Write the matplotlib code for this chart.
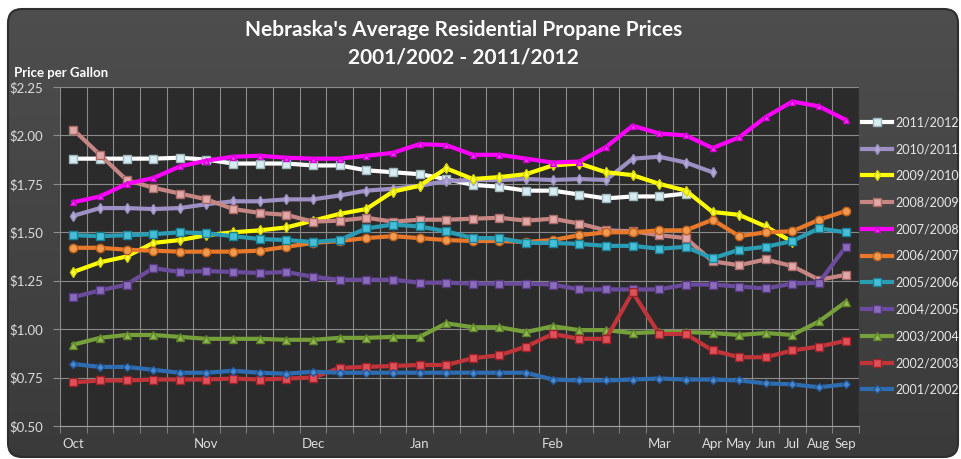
import numpy as np
import matplotlib
matplotlib.use('Agg')
import matplotlib.pyplot as plt
from matplotlib.patches import FancyBboxPatch
from matplotlib.colors import LinearSegmentedColormap

plt.rcParams['font.family'] = ['Lato', 'DejaVu Sans']

# Category labels: weekly Oct-Mar, then monthly Apr-Sep
months = ['Oct', '', '', '', '', 'Nov', '', '', '', 'Dec', '', '', '', 'Jan', '', '', '', '',
          'Feb', '', '', '', 'Mar', '', 'Apr', 'May', 'Jun', 'Jul', 'Aug', 'Sep']

# Price per gallon for each heating season
s2011_2012 = [1.88, 1.88, 1.88, 1.88, 1.885, 1.875, 1.855, 1.855, 1.855, 1.845, 1.845, 1.82, 1.81, 1.80,
              1.775, 1.745, 1.735, 1.715, 1.715, 1.695, 1.675, 1.685, 1.685, 1.70]
s2010_2011 = [1.585, 1.625, 1.625, 1.62, 1.625, 1.645, 1.66, 1.66, 1.67, 1.67, 1.69, 1.715, 1.725, 1.74,
              1.765, 1.77, 1.77, 1.775, 1.77, 1.775, 1.77, 1.88, 1.89, 1.86, 1.81]
s2009_2010 = [1.295, 1.345, 1.375, 1.445, 1.46, 1.485, 1.50, 1.51, 1.525, 1.56, 1.595, 1.62, 1.71, 1.74,
              1.83, 1.775, 1.785, 1.80, 1.845, 1.855, 1.81, 1.795, 1.75, 1.715, 1.605, 1.59, 1.53, 1.45]
s2008_2009 = [2.03, 1.90, 1.77, 1.73, 1.70, 1.67, 1.62, 1.60, 1.59, 1.555, 1.56, 1.575, 1.555, 1.565,
              1.565, 1.57, 1.575, 1.56, 1.57, 1.545, 1.51, 1.505, 1.485, 1.47, 1.35, 1.33, 1.36, 1.325,
              1.255, 1.28]
s2007_2008 = [1.655, 1.685, 1.75, 1.78, 1.84, 1.87, 1.89, 1.895, 1.885, 1.88, 1.88, 1.895, 1.91, 1.955,
              1.95, 1.90, 1.90, 1.88, 1.86, 1.865, 1.94, 2.05, 2.01, 2.00, 1.935, 1.99, 2.095, 2.175,
              2.15, 2.08]
s2006_2007 = [1.42, 1.42, 1.41, 1.405, 1.40, 1.40, 1.40, 1.405, 1.425, 1.445, 1.455, 1.47, 1.48, 1.47,
              1.46, 1.455, 1.455, 1.45, 1.46, 1.485, 1.50, 1.50, 1.51, 1.51, 1.565, 1.48, 1.50, 1.505,
              1.565, 1.61]
s2005_2006 = [1.485, 1.48, 1.485, 1.49, 1.50, 1.495, 1.48, 1.465, 1.46, 1.45, 1.46, 1.52, 1.54, 1.53,
              1.505, 1.47, 1.47, 1.445, 1.445, 1.44, 1.43, 1.43, 1.415, 1.425, 1.365, 1.41, 1.425, 1.455,
              1.52, 1.50]
s2004_2005 = [1.165, 1.20, 1.23, 1.315, 1.295, 1.30, 1.295, 1.29, 1.295, 1.27, 1.255, 1.255, 1.255, 1.24,
              1.24, 1.235, 1.235, 1.235, 1.23, 1.205, 1.205, 1.205, 1.205, 1.23, 1.23, 1.22, 1.21, 1.235,
              1.24, 1.425]
s2003_2004 = [0.92, 0.955, 0.97, 0.97, 0.96, 0.95, 0.95, 0.95, 0.945, 0.945, 0.955, 0.955, 0.96, 0.96,
              1.03, 1.01, 1.01, 0.985, 1.015, 0.995, 0.995, 0.98, 0.985, 0.985, 0.98, 0.97, 0.98, 0.97,
              1.04, 1.14]
s2002_2003 = [0.725, 0.735, 0.735, 0.74, 0.74, 0.74, 0.745, 0.74, 0.745, 0.75, 0.80, 0.805, 0.81, 0.815,
              0.815, 0.85, 0.865, 0.91, 0.975, 0.95, 0.95, 1.19, 0.975, 0.975, 0.89, 0.855, 0.855, 0.89,
              0.91, 0.94]
s2001_2002 = [0.82, 0.805, 0.805, 0.79, 0.775, 0.775, 0.785, 0.775, 0.77, 0.78, 0.775, 0.775, 0.775, 0.775,
              0.775, 0.775, 0.775, 0.775, 0.74, 0.735, 0.735, 0.74, 0.745, 0.74, 0.74, 0.735, 0.72, 0.715,
              0.70, 0.715]

seasons = ['2011/2012', '2010/2011', '2009/2010', '2008/2009', '2007/2008', '2006/2007',
           '2005/2006', '2004/2005', '2003/2004', '2002/2003', '2001/2002']
series = [s2011_2012, s2010_2011, s2009_2010, s2008_2009, s2007_2008, s2006_2007,
          s2005_2006, s2004_2005, s2003_2004, s2002_2003, s2001_2002]

# line colour, marker, marker size, marker face, marker edge
styles = [
    ('#ffffff', 's', 6, '#d6eef3', '#9fb5ba'),
    ('#9d90c4', 'd', 5, '#b3a8d6', '#9d90c4'),
    ('#ffff00', 'd', 5, '#ffff33', '#d8d800'),
    ('#c68784', 's', 6, '#e0a8a6', '#a86866'),
    ('#ff00ff', '^', 4.5, '#ff33ff', '#d000d0'),
    ('#e8792a', 'o', 6, '#f09a50', '#c0601a'),
    ('#2a9db5', 's', 6, '#45c0d8', '#1d7f93'),
    ('#6b4c9c', 's', 6, '#8a6cbc', '#55387e'),
    ('#76a03a', '^', 5.5, '#90b850', '#5e8428'),
    ('#c0343a', 's', 6, '#e05058', '#9a2228'),
    ('#2f6db2', 'D', 4.5, '#4a88cc', '#225596'),
]

fig = plt.figure(figsize=(9.61, 4.59), dpi=100)
fig.patch.set_facecolor('white')

# rounded dark chart frame with a soft vertical gradient
bg = fig.add_axes([0, 0, 1, 1])
bg.set_xlim(0, 1)
bg.set_ylim(0, 1)
bg.axis('off')
frame = FancyBboxPatch((0.08, 0.02), 9.50, 4.48, boxstyle='round,pad=0,rounding_size=0.14',
                       transform=fig.dpi_scale_trans, facecolor='none', edgecolor='#2e2e2e',
                       linewidth=1.5, zorder=3)
bg.add_patch(frame)
grad = np.linspace(0, 1, 256).reshape(-1, 1)
cmap = LinearSegmentedColormap.from_list('bg', ['#4e4e4e', '#3a3a3a'])
im = bg.imshow(grad, cmap=cmap, aspect='auto', extent=[0, 1, 0, 1], origin='upper')
im.set_clip_path(frame)

ax = fig.add_axes([60 / 961, 33 / 459, 799 / 961, 339 / 459])
ax.set_facecolor('#2b2b2b')

x = np.arange(len(months))
for label, vals, (col, mk, ms, mfc, mec) in zip(seasons, series, styles):
    ax.plot(x[:len(vals)], vals, color=col, lw=3, marker=mk, ms=ms,
            mfc=mfc, mec=mec, mew=1, label=label)

ax.set_xlim(-0.5, len(months) - 0.5)
ax.set_ylim(0.5, 2.25)
yt = np.arange(0.5, 2.26, 0.25)
ax.set_yticks(yt)
ax.set_yticklabels([f'${v:.2f}' for v in yt])
ax.set_xticks(x)
ax.set_xticklabels(months)
ax.set_xticks(np.arange(-0.5, len(months), 1), minor=True)

ax.tick_params(axis='x', which='major', length=0, pad=9, labelsize=9.5, labelcolor='#dcdcdc')
ax.tick_params(axis='x', which='minor', length=5, color='#8c8c8c', direction='out')
ax.tick_params(axis='y', length=5, color='#8c8c8c', pad=7, labelsize=9.5, labelcolor='#dcdcdc')
ax.grid(which='minor', axis='x', color='#8a8a8a', lw=0.8)
ax.grid(which='major', axis='y', color='#8a8a8a', lw=0.8)
ax.grid(which='major', axis='x', visible=False)
ax.set_axisbelow(True)
for side in ['top', 'right', 'left']:
    ax.spines[side].set_visible(False)
ax.spines['bottom'].set_color('#a0a0a0')

fig.text(463.5 / 961, 1 - 36 / 459, "Nebraska's Average Residential Propane Prices",
         ha='center', va='baseline', fontsize=15, weight='bold', color='white')
fig.text(463.5 / 961, 1 - 63 / 459, '2001/2002 - 2011/2012',
         ha='center', va='baseline', fontsize=15, weight='bold', color='white')
fig.text(14 / 961, 1 - 77 / 459, 'Price per Gallon', ha='left', va='baseline',
         fontsize=9.5, weight='bold', color='white')

leg = ax.legend(loc='center left', bbox_to_anchor=(862 / 961, 1 - 256 / 459),
                bbox_transform=fig.transFigure, frameon=False, fontsize=9,
                labelspacing=1.18, handlelength=2.4, handletextpad=0.3,
                borderpad=0, borderaxespad=0, numpoints=1)
for t in leg.get_texts():
    t.set_color('#e8e8e8')

plt.savefig('out.png', dpi=100, facecolor=fig.get_facecolor())
